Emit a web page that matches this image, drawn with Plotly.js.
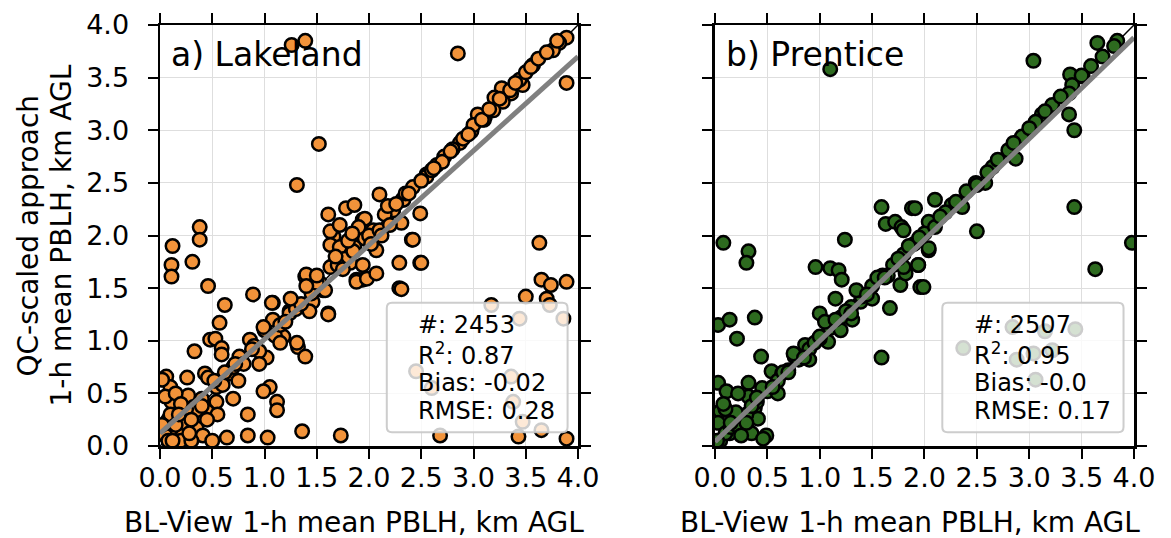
<!DOCTYPE html>
<html>
<head>
<meta charset="utf-8">
<script src="https://cdn.plot.ly/plotly-3.0.1.min.js"></script>
<style>html,body{margin:0;padding:0;background:#fff;}#chart{width:1171px;height:538px;}</style>
</head>
<body>
<div id="chart"></div>
<script>
// ---- Data (km AGL) ----
const lakelandX = [1.26,1.39,1.52,1.31,0.38,0.38,0.12,0.11,0.11,0.31,0.46,0.62,0.57,0.89,0.48,0.53,0.59,0.59,0.33,0.43,0.46,0.26,0.06,0.10,0.27,0.11,0.54,0.45,0.32,0.08,0.35,0.41,0.19,0.64,0.84,0.84,1.05,0.99,1.12,1.12,1.03,1.36,1.73,1.32,1.39,1.02,1.61,1.39,1.94,1.88,1.66,
1.08,1.24,1.18,0.86,1.00,0.76,0.67,0.54,0.35,0.22,0.10,1.46,1.56,1.82,
1.61,1.78,1.86,2.10,2.32,2.42,2.55,2.49,2.41,2.29,2.49,2.29,1.94,1.96,2.04,2.23,1.63,1.63,1.72,1.77,1.86,2.07,1.94,1.88,1.98,2.07,1.40,1.53,1.63,1.07,1.24,1.43,1.61,1.58,1.31,1.08,0.99,
2.85,3.89,3.82,3.76,3.89,3.57,3.47,3.44,3.36,3.27,3.20,3.28,3.19,3.11,3.04,2.98,2.87,2.72,2.65,2.55,2.33,2.23,2.31,1.96,
2.42,2.50,2.31,3.63,3.65,3.74,3.89,3.50,3.70,3.17,3.86,3.44,3.73,2.45,2.60,3.36,3.38,3.47,3.65,3.43,3.89,2.68,
0.02,0.05,0.10,0.15,0.20,0.05,0.30,0.15,0.25,0.40,0.50,0.55,0.02,0.30,0.20,0.60,0.70,0.80,0.90,0.95,1.10,1.15,1.20,1.30,1.35,1.45,1.50,1.70,1.75,1.85,2.00,2.10,2.15,2.20,2.35,2.60,2.70,2.80,2.90,3.00,3.10,3.35,3.50,3.55,3.80,0.75,0.95,1.15,0.45,0.70,
1.68,1.80,1.90,2.02,2.12,2.18,1.72,1.84,2.26,2.38,1.50,1.40,1.25,0.88,0.72,0.62,0.40,0.18,0.08,2.50,2.62,2.78,2.95,3.08,3.15,3.25,3.40,3.62,3.70,0.28,0.52,0.12];
const lakelandY = [3.81,3.85,2.87,2.48,2.08,1.96,1.90,1.72,1.61,1.75,1.52,1.34,1.17,1.44,1.01,1.02,0.93,0.87,0.90,0.69,0.65,0.65,0.66,0.56,0.48,0.42,0.42,0.33,0.37,0.25,0.17,0.10,0.12,0.08,0.10,0.30,0.56,0.52,0.42,0.34,0.08,0.14,0.10,0.94,0.85,0.84,1.26,1.61,1.58,1.58,1.99,
1.36,1.28,1.04,1.01,1.10,0.85,0.69,0.56,0.34,0.22,0.15,1.37,1.48,1.74,
2.20,2.26,2.29,2.39,2.34,2.46,2.58,2.21,1.96,1.74,1.74,1.50,2.15,1.97,2.05,2.24,2.04,1.91,1.89,1.78,1.89,1.86,1.72,1.56,1.59,1.64,1.63,1.55,1.70,1.36,1.26,1.28,1.25,1.48,0.98,1.20,1.13,
3.73,3.88,3.83,3.76,3.45,3.62,3.43,3.48,3.35,3.40,3.31,3.27,3.19,3.13,3.15,2.99,2.88,2.75,2.67,2.56,2.34,2.24,2.12,2.16,
1.96,1.74,1.49,1.93,1.58,1.53,1.56,1.42,1.40,1.34,1.21,1.21,1.34,0.71,0.55,0.66,0.42,0.23,0.15,0.09,0.07,0.10,
0.63,0.47,0.30,0.20,0.05,0.10,0.05,0.50,0.35,0.45,0.05,0.30,0.20,0.25,0.40,0.58,0.75,0.78,0.95,0.90,1.05,1.15,1.18,1.30,1.35,1.45,1.55,1.72,1.68,1.85,2.00,2.05,2.20,2.10,2.40,2.62,2.70,2.82,2.92,3.05,3.10,3.38,3.55,3.60,3.85,0.62,0.78,0.98,0.25,0.45,
1.80,1.95,2.08,1.92,2.00,2.28,2.10,2.02,2.30,2.40,1.62,1.52,1.40,0.92,0.78,0.70,0.38,0.30,0.05,2.52,2.64,2.80,2.96,3.10,3.20,3.30,3.45,3.68,3.74,0.12,0.62,0.05];

const prenticeX = [1.10,1.59,1.88,1.63,1.72,1.78,1.24,0.08,0.32,0.30,0.96,1.10,1.18,1.21,1.15,1.00,0.03,0.14,0.21,0.38,0.44,0.54,0.32,0.03,0.11,0.05,0.32,0.38,0.41,0.30,0.35,0.49,0.46,0.14,0.03,1.59,1.67,1.77,1.82,1.96,1.94,1.39,1.31,1.08,0.86,0.76,0.64,1.80,1.99,2.04,
3.04,3.65,3.84,3.81,3.70,3.59,3.51,3.39,3.41,3.38,3.38,3.43,3.22,3.12,3.06,2.93,2.80,2.87,2.65,2.58,2.49,2.36,2.26,2.10,3.43,2.50,1.91,2.04,
3.63,3.98,2.04,1.94,
2.84,3.15,3.44,2.37,2.88,3.04,3.22,3.06,
0.05,0.10,0.15,0.20,0.25,0.30,0.40,0.50,0.60,0.70,0.80,0.90,1.00,1.10,1.20,1.30,1.40,1.50,1.60,1.70,1.80,1.90,2.00,2.20,2.40,2.70,3.00,3.30,0.30,0.60,0.90,1.20,1.50,1.80,0.45,0.75,1.05,1.35,0.20,0.10,0.02,0.08,0.25,0.22,
0.35,0.55,0.65,0.85,0.95,1.15,1.25,1.45,1.55,1.65,1.75,1.85,1.95,2.10,2.30,2.50,2.60,2.85,3.15,3.50,0.15,0.40,0.70,1.00,1.30,1.62,2.15];
const prenticeY = [3.58,2.27,2.26,2.11,2.13,2.08,1.96,1.93,1.85,1.74,1.70,1.69,1.67,1.58,1.40,1.26,1.15,1.20,1.02,1.22,0.85,0.71,0.60,0.60,0.52,0.33,0.47,0.36,0.26,0.17,0.12,0.10,0.07,0.12,0.22,0.84,1.31,1.53,1.64,1.51,1.72,1.37,1.20,0.99,0.96,0.85,0.69,2.05,1.51,1.86,
3.66,3.83,3.85,3.80,3.70,3.61,3.51,3.53,3.43,3.35,3.15,3.00,3.24,3.15,3.08,2.94,2.81,2.73,2.65,2.50,2.50,2.27,2.29,2.34,2.27,2.04,2.26,2.13,
1.68,1.93,1.88,1.72,
1.13,1.09,1.11,0.93,0.82,0.88,0.91,0.63,
0.05,0.12,0.18,0.20,0.28,0.30,0.42,0.52,0.62,0.72,0.82,0.92,1.02,1.12,1.22,1.32,1.42,1.52,1.62,1.72,1.82,1.92,2.02,2.22,2.42,2.72,3.02,3.32,0.22,0.50,0.82,1.10,1.40,1.70,0.55,0.88,1.18,1.48,0.32,0.35,0.05,0.40,0.10,0.50,
0.38,0.56,0.70,0.84,0.98,1.20,1.28,1.44,1.60,1.62,1.78,1.90,1.98,2.08,2.32,2.48,2.60,2.88,3.18,3.52,0.22,0.46,0.70,1.04,1.26,1.60,2.18];

const panelLabels = ["a) Lakeland", "b) Prentice"];
const statCount = ["2453", "2507"];
const statR2 = ["0.87", "0.95"];
const statBias = ["-0.02", "-0.0"];
const statRMSE = ["0.28", "0.17"];
const fitIntercept = [0.12, 0.04];
const fitSlope = [0.895, 0.96];
const tickVals = [0, 0.5, 1, 1.5, 2, 2.5, 3, 3.5, 4];
const tickText = ["0.0","0.5","1.0","1.5","2.0","2.5","3.0","3.5","4.0"];
const xTitle = "BL-View 1-h mean PBLH, km AGL";
const yTitle = ["QC-scaled approach", "1-h mean PBLH, km AGL"];

// ---- Styling ----
const FONT = "DejaVu Sans, Liberation Sans, sans-serif";
const colors = ["#f2933a", "#2d6a1f"];
const sets = [[lakelandX, lakelandY], [prenticeX, prenticeY]];

const traces = [];
sets.forEach((s, i) => {
  const xa = i === 0 ? "x" : "x2", ya = i === 0 ? "y" : "y2";
  traces.push({x: [0, 4], y: [0, 4], xaxis: xa, yaxis: ya, mode: "lines",
    line: {color: "black", width: 1.5}, hoverinfo: "skip", showlegend: false});
  traces.push({x: s[0], y: s[1], xaxis: xa, yaxis: ya, mode: "markers", type: "scatter",
    marker: {size: 13.5, color: colors[i], line: {color: "black", width: 2.5}},
    hoverinfo: "skip", showlegend: false});
  traces.push({x: [0, 4], y: [fitIntercept[i], fitIntercept[i] + 4 * fitSlope[i]], xaxis: xa, yaxis: ya,
    mode: "lines", line: {color: "#808080", width: 5}, hoverinfo: "skip", showlegend: false});
});

function axisBase(domain, anchor, showLabels, standoff) {
  return {
    domain: domain, anchor: anchor, range: [0, 4], tickvals: tickVals, ticktext: tickText,
    showticklabels: showLabels, ticks: "outside", ticklen: 10, tickwidth: 2, tickcolor: "black",
    ticklabelstandoff: standoff,
    mirror: "ticks", showline: true, linewidth: 2.5, linecolor: "black",
    showgrid: true, gridcolor: "#dedede", gridwidth: 1, zeroline: false,
    tickfont: {family: FONT, size: 27, color: "black"}, fixedrange: true
  };
}

function roundRect(x0, x1, y0, y1, rx, ry) {
  return `M ${x0+rx},${y0} L ${x1-rx},${y0} Q ${x1},${y0} ${x1},${y0+ry} L ${x1},${y1-ry} Q ${x1},${y1} ${x1-rx},${y1} ` +
         `L ${x0+rx},${y1} Q ${x0},${y1} ${x0},${y1-ry} L ${x0},${y0+ry} Q ${x0},${y0} ${x0+rx},${y0} Z`;
}

const shapes = [], annotations = [];
[0, 1].forEach(i => {
  const xr = i === 0 ? "x" : "x2", yr = i === 0 ? "y" : "y2";
  shapes.push({type: "path", xref: xr, yref: yr, layer: "above",
    path: roundRect(2.17, 3.90, 0.13, 1.36, 0.05, 0.05),
    fillcolor: "rgba(255,255,255,0.8)", line: {color: "rgba(200,200,200,0.9)", width: 2}});
  const lines = ["#: " + statCount[i], "R<sup>2</sup>: " + statR2[i], "Bias: " + statBias[i], "RMSE: " + statRMSE[i]];
  const ys = [1.15, 0.875, 0.60, 0.335];
  lines.forEach((t, k) => annotations.push({xref: xr, yref: yr, x: 2.45, y: ys[k], text: t,
    showarrow: false, xanchor: "left", yanchor: "middle", font: {family: FONT, size: 24, color: "black"}}));
  annotations.push({xref: xr, yref: yr, x: 0.09, y: 3.72, text: panelLabels[i], showarrow: false,
    xanchor: "left", yanchor: "middle", font: {family: FONT, size: 33, color: "black"}});
  annotations.push({xref: xr, yref: "paper", x: 1.86, y: 0, yshift: -76, text: xTitle, showarrow: false,
    xanchor: "center", yanchor: "middle", font: {family: FONT, size: 28, color: "black"}});
});
annotations.push({xref: "paper", yref: "paper", x: 0, xshift: -132, y: 0.5, text: yTitle[0], textangle: -90,
  showarrow: false, xanchor: "center", yanchor: "middle", font: {family: FONT, size: 28, color: "black"}});
annotations.push({xref: "paper", yref: "paper", x: 0, xshift: -99, y: 0.5, text: yTitle[1], textangle: -90,
  showarrow: false, xanchor: "center", yanchor: "middle", font: {family: FONT, size: 28, color: "black"}});

const layout = {
  width: 1171, height: 538,
  margin: {l: 160, r: 37, t: 25, b: 92},
  paper_bgcolor: "white", plot_bgcolor: "white",
  xaxis: axisBase([0, 0.4292], "y", true, -4),
  yaxis: axisBase([0, 1], "x", true, 13),
  xaxis2: axisBase([0.5698, 1], "y2", true, -4),
  yaxis2: axisBase([0, 1], "x2", false, 13),
  shapes: shapes, annotations: annotations,
  hovermode: false, showlegend: false,
  font: {family: FONT, color: "black"}
};

Plotly.newPlot("chart", traces, layout, {displayModeBar: false, staticPlot: true});
</script>
</body>
</html>
